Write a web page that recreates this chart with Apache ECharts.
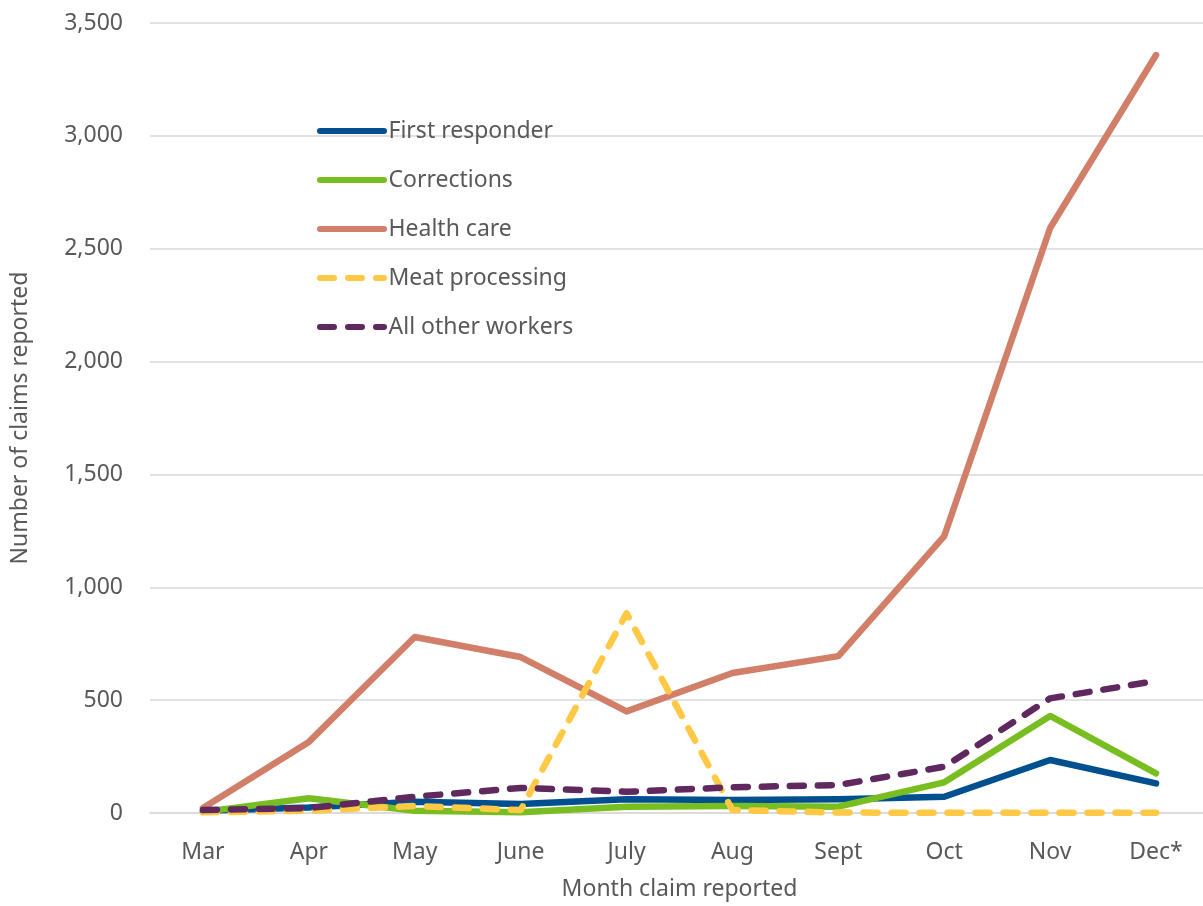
<!DOCTYPE html>
<html>
<head>
<meta charset="utf-8">
<script src="https://cdn.jsdelivr.net/npm/echarts@6/dist/echarts.min.js"></script>
<style>html,body{margin:0;padding:0;background:#fff}#c{width:1203px;height:906px}</style>
</head>
<body>
<div id="c"></div>
<script>
const months = ['Mar','Apr','May','June','July','Aug','Sept','Oct','Nov','Dec*'];
const firstResponder = [10, 24, 50, 40, 61, 58, 61, 72, 235, 131];
const corrections = [5, 65, 10, 3, 28, 31, 28, 136, 430, 176];
const healthCare = [22, 315, 780, 691, 450, 620, 695, 1227, 2592, 3358];
const meatProcessing = [3, 10, 31, 13, 885, 13, 2, 1, 1, 1];
const allOther = [13, 22, 72, 111, 94, 114, 124, 205, 508, 585];
const yTicks = {min: 0, max: 3500, interval: 500};

const FONT = 'Noto Sans';
const TXT = '#595959';
const SOLID_ICON = 'path://M3,0L67,0A3,3 0 0 1 67,6L3,6A3,3 0 0 1 3,0Z';
const DASH_ICON = 'path://M3,0L17,0A3,3 0 0 1 17,6L3,6A3,3 0 0 1 3,0Z' +
  'M31,0L45,0A3,3 0 0 1 45,6L31,6A3,3 0 0 1 31,0Z' +
  'M59,0L67,0A3,3 0 0 1 67,6L59,6A3,3 0 0 1 59,0Z';
function mk(name, data, color, dashed) {
  return {
    name, type: 'line', data, symbol: 'none', smooth: false,
    lineStyle: {color, width: 6.5, type: dashed ? [14, 14] : 'solid', cap: 'round', join: 'round'},
    itemStyle: {color},
    emphasis: {disabled: true}
  };
}
const chart = echarts.init(document.getElementById('c'));
chart.setOption({
  animation: false,
  backgroundColor: '#fff',
  grid: {left: 150, width: 1059, top: 23, bottom: 93, containLabel: false, outerBoundsMode: 'none'},
  legend: {
    orient: 'vertical', left: 312, top: 114, itemGap: 25, itemWidth: 71, itemHeight: 6,
    textStyle: {fontFamily: FONT, fontSize: 23, color: TXT, lineHeight: 24, padding: [0, 0, 0, -4]},
    data: [
      {name: 'First responder', icon: SOLID_ICON},
      {name: 'Corrections', icon: SOLID_ICON},
      {name: 'Health care', icon: SOLID_ICON},
      {name: 'Meat processing', icon: DASH_ICON},
      {name: 'All other workers', icon: DASH_ICON}
    ]
  },
  xAxis: {
    type: 'category', data: months, boundaryGap: true,
    name: 'Month claim reported', nameLocation: 'middle', nameGap: 65,
    nameTextStyle: {fontFamily: FONT, fontSize: 23, color: TXT},
    axisLine: {lineStyle: {color: '#d9d9d9', width: 1.5}},
    axisTick: {show: false},
    axisLabel: {fontFamily: FONT, fontSize: 23, color: TXT, margin: 28}
  },
  yAxis: {
    type: 'value', min: yTicks.min, max: yTicks.max, interval: yTicks.interval,
    name: 'Number of claims reported', nameLocation: 'middle', nameGap: 118,
    nameTextStyle: {fontFamily: FONT, fontSize: 23, color: TXT},
    axisLine: {show: false}, axisTick: {show: false},
    splitLine: {lineStyle: {color: '#d9d9d9', width: 1.5}},
    axisLabel: {fontFamily: FONT, fontSize: 23, color: TXT, margin: 27,
      formatter: v => v.toLocaleString('en-US')}
  },
  series: [
    mk('First responder', firstResponder, '#00508F', false),
    mk('Corrections', corrections, '#78BE21', false),
    mk('Health care', healthCare, '#D17F68', false),
    mk('Meat processing', meatProcessing, '#FFC845', true),
    mk('All other workers', allOther, '#5F285F', true)
  ]
});
</script>
</body>
</html>
